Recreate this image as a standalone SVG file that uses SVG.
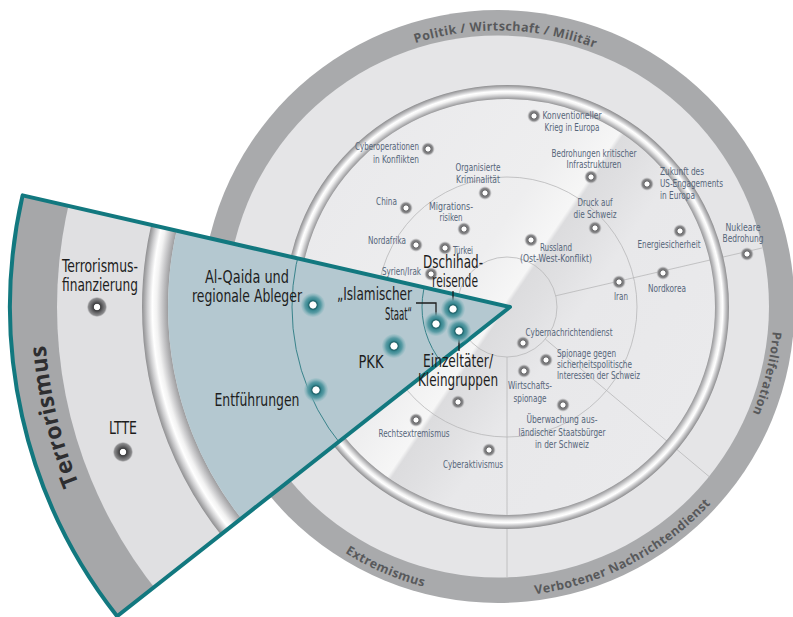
<svg xmlns="http://www.w3.org/2000/svg" width="793" height="617" viewBox="0 0 793 617">
<defs>
<style>
.lbl{font-family:"Liberation Sans Narrow","DejaVu Sans Condensed","Liberation Sans",sans-serif;font-size:10.5px;fill:#56667a}
.wl{font-family:"Liberation Sans Narrow","DejaVu Sans Condensed","Liberation Sans",sans-serif;font-size:18px;fill:#1d1d1d}
.ring{font-family:"Open Sans","DejaVu Sans",sans-serif;font-weight:bold;font-size:12.5px;fill:#58595b;letter-spacing:0.4px}
.terr{font-family:"Open Sans","DejaVu Sans",sans-serif;font-weight:bold;font-size:23px;fill:#2e2e30;letter-spacing:0.3px}
.conn{stroke:#1d1d1d;stroke-width:1.3;fill:none}
.grid{stroke:#b7b7b9;stroke-width:0.8;fill:none}
.tarc{stroke:#2a7a82;stroke-width:0.9;fill:none}
</style>
<radialGradient id="gdot">
<stop offset="0" stop-color="#fff"/><stop offset="0.3" stop-color="#fff"/><stop offset="0.42" stop-color="#6c6c6e"/><stop offset="0.7" stop-color="#8c8c8e"/><stop offset="1" stop-color="#c8c8ca" stop-opacity="0"/>
</radialGradient>
<radialGradient id="tdot">
<stop offset="0" stop-color="#fff"/><stop offset="0.27" stop-color="#fff"/><stop offset="0.33" stop-color="#1d5f66"/><stop offset="0.47" stop-color="#3a8992"/><stop offset="0.68" stop-color="#5b9ca5"/><stop offset="1" stop-color="#8cbac1" stop-opacity="0.25"/>
</radialGradient>
<radialGradient id="wdot">
<stop offset="0" stop-color="#fff"/><stop offset="0.28" stop-color="#fff"/><stop offset="0.36" stop-color="#3e3e40"/><stop offset="0.6" stop-color="#666668"/><stop offset="0.85" stop-color="#8a8a8c"/><stop offset="1" stop-color="#b0b0b2" stop-opacity="0.3"/>
</radialGradient>
<radialGradient id="silverC" gradientUnits="userSpaceOnUse" cx="507" cy="307" r="222">
<stop offset="0.937" stop-color="#98989a"/><stop offset="0.95" stop-color="#c6c6c8"/><stop offset="0.963" stop-color="#f3f3f3"/><stop offset="0.972" stop-color="#ffffff"/><stop offset="0.983" stop-color="#cfcfd1"/><stop offset="1" stop-color="#8e8e90"/>
</radialGradient>
<radialGradient id="silverW" gradientUnits="userSpaceOnUse" cx="510" cy="307" r="368">
<stop offset="0.929" stop-color="#9c9c9e"/><stop offset="0.945" stop-color="#c8c8ca"/><stop offset="0.96" stop-color="#f2f2f2"/><stop offset="0.972" stop-color="#ffffff"/><stop offset="0.985" stop-color="#cfcfd1"/><stop offset="1" stop-color="#8f8f91"/>
</radialGradient>
<linearGradient id="sheen" gradientUnits="userSpaceOnUse" x1="333" y1="189.4" x2="681" y2="424.6">
<stop offset="0" stop-color="#eaeaec"/><stop offset="0.38" stop-color="#eeeeef"/><stop offset="0.49" stop-color="#f6f6f6"/><stop offset="0.5" stop-color="#dcdcde"/><stop offset="0.56" stop-color="#e0e0e2"/><stop offset="0.65" stop-color="#e8e8ea"/><stop offset="1" stop-color="#eaeaec"/>
</linearGradient>
<clipPath id="wedgeClip"><path d="M510,307 L22.6,195.4 A500,500 0 0 0 117.1,616.2 Z"/></clipPath>
<path id="pPolitik" d="M262.9,161.9 A276,276 0 0 1 740.8,175.2"/>
<path id="pProlif" d="M689.7,108 A276,276 0 0 1 574.1,571.8"/>
<path id="pVerb" d="M341.3,550.5 A290,290 0 0 0 787.7,320.2"/>
<path id="pExtr" d="M210,340.3 A290,290 0 0 0 671.3,539"/>
<path id="pTerr" d="M172,627.8 A466,466 0 0 1 63.2,174.7"/>
</defs>
<rect width="793" height="617" fill="#fff"/>

<g id="radar-background">
<circle cx="498" cy="306.5" r="296.5" fill="#a9aaac"/>
<circle cx="498" cy="306.5" r="271" fill="#e5e5e7"/>
<circle cx="507" cy="307" r="209" fill="url(#sheen)"/>
<circle class="grid" cx="507" cy="307" r="50"/>
<circle class="grid" cx="507" cy="307" r="130"/>
<line class="grid" x1="555.7" y1="295.8" x2="762" y2="248"/>
<line class="grid" x1="545.3" y1="339.1" x2="710" y2="477.3"/>
<line class="grid" x1="507" y1="357" x2="507" y2="577"/>
<circle cx="507" cy="307" r="215" fill="none" stroke="url(#silverC)" stroke-width="14"/>
<text class="ring"><textPath href="#pPolitik" startOffset="50%" text-anchor="middle">Politik / Wirtschaft / Militär</textPath></text>
<text class="ring"><textPath href="#pProlif" startOffset="50%" text-anchor="middle">Proliferation</textPath></text>
<text class="ring"><textPath href="#pVerb" startOffset="50%" text-anchor="middle">Verbotener Nachrichtendienst</textPath></text>
<text class="ring"><textPath href="#pExtr" startOffset="50%" text-anchor="middle">Extremismus</textPath></text>
</g>

<g id="n-konv"><circle cx="534" cy="116" r="7" fill="url(#gdot)"/>
<text class="lbl" x="572" y="118.5" text-anchor="middle" textLength="59" lengthAdjust="spacingAndGlyphs">Konventioneller</text>
<text class="lbl" x="572" y="130.5" text-anchor="middle" textLength="55" lengthAdjust="spacingAndGlyphs">Krieg in Europa</text></g>
<g id="n-cyberop"><circle cx="428" cy="149" r="7" fill="url(#gdot)"/>
<text class="lbl" x="419" y="150" text-anchor="end" textLength="64" lengthAdjust="spacingAndGlyphs">Cyberoperationen</text>
<text class="lbl" x="419" y="162.5" text-anchor="end" textLength="46" lengthAdjust="spacingAndGlyphs">in Konflikten</text></g>
<g id="n-bedroh"><circle cx="591" cy="177" r="7" fill="url(#gdot)"/>
<text class="lbl" x="594" y="156.5" text-anchor="middle" textLength="85" lengthAdjust="spacingAndGlyphs">Bedrohungen kritischer</text>
<text class="lbl" x="594" y="167.5" text-anchor="middle" textLength="55" lengthAdjust="spacingAndGlyphs">Infrastrukturen</text></g>
<g id="n-orgkrim"><circle cx="485" cy="193" r="7" fill="url(#gdot)"/>
<text class="lbl" x="478" y="170.5" text-anchor="middle" textLength="45" lengthAdjust="spacingAndGlyphs">Organisierte</text>
<text class="lbl" x="478" y="182.5" text-anchor="middle" textLength="44" lengthAdjust="spacingAndGlyphs">Kriminalität</text></g>
<g id="n-zukunft"><circle cx="647" cy="184" r="7" fill="url(#gdot)"/>
<text class="lbl" x="660" y="174.5" textLength="44" lengthAdjust="spacingAndGlyphs">Zukunft des</text>
<text class="lbl" x="660" y="186.5" textLength="63" lengthAdjust="spacingAndGlyphs">US-Engagements</text>
<text class="lbl" x="660" y="198.5" textLength="35" lengthAdjust="spacingAndGlyphs">in Europa</text></g>
<g id="n-china"><circle cx="406" cy="208" r="7" fill="url(#gdot)"/>
<text class="lbl" x="397" y="204.5" text-anchor="end" textLength="21" lengthAdjust="spacingAndGlyphs">China</text></g>
<g id="n-migr"><circle cx="464" cy="229" r="7" fill="url(#gdot)"/>
<text class="lbl" x="451" y="209.5" text-anchor="middle" textLength="44" lengthAdjust="spacingAndGlyphs">Migrations-</text>
<text class="lbl" x="451" y="220.5" text-anchor="middle" textLength="23" lengthAdjust="spacingAndGlyphs">risiken</text></g>
<g id="n-druck"><circle cx="595" cy="228" r="7" fill="url(#gdot)"/>
<text class="lbl" x="595" y="205.5" text-anchor="middle" textLength="35" lengthAdjust="spacingAndGlyphs">Druck auf</text>
<text class="lbl" x="595" y="217.5" text-anchor="middle" textLength="43" lengthAdjust="spacingAndGlyphs">die Schweiz</text></g>
<g id="n-energie"><circle cx="680" cy="231" r="7" fill="url(#gdot)"/>
<text class="lbl" x="669" y="247.5" text-anchor="middle" textLength="63" lengthAdjust="spacingAndGlyphs">Energiesicherheit</text></g>
<g id="n-nuklear"><circle cx="747" cy="254" r="7" fill="url(#gdot)"/>
<text class="lbl" x="743" y="230.5" text-anchor="middle" textLength="35" lengthAdjust="spacingAndGlyphs">Nukleare</text>
<text class="lbl" x="743" y="241.5" text-anchor="middle" textLength="41" lengthAdjust="spacingAndGlyphs">Bedrohung</text></g>
<g id="n-nordafrika"><circle cx="416" cy="245" r="7" fill="url(#gdot)"/>
<text class="lbl" x="406" y="243.5" text-anchor="end" textLength="38" lengthAdjust="spacingAndGlyphs">Nordafrika</text></g>
<g id="n-tuerkei"><circle cx="445" cy="248" r="7" fill="url(#gdot)"/>
<text class="lbl" x="453" y="254" textLength="20" lengthAdjust="spacingAndGlyphs">Türkei</text></g>
<g id="n-russland"><circle cx="531" cy="240" r="7" fill="url(#gdot)"/>
<text class="lbl" x="556" y="250.5" text-anchor="middle" textLength="32" lengthAdjust="spacingAndGlyphs">Russland</text>
<text class="lbl" x="556" y="262" text-anchor="middle" textLength="72" lengthAdjust="spacingAndGlyphs">(Ost-West-Konflikt)</text></g>
<g id="n-syrien"><circle cx="431" cy="274" r="7" fill="url(#gdot)"/>
<text class="lbl" x="421" y="274.5" text-anchor="end" textLength="39" lengthAdjust="spacingAndGlyphs">Syrien/Irak</text></g>
<g id="n-nordkorea"><circle cx="663" cy="273" r="7" fill="url(#gdot)"/>
<text class="lbl" x="667" y="291.5" text-anchor="middle" textLength="38" lengthAdjust="spacingAndGlyphs">Nordkorea</text></g>
<g id="n-iran"><circle cx="619" cy="282" r="7" fill="url(#gdot)"/>
<text class="lbl" x="621" y="299.5" text-anchor="middle" textLength="14" lengthAdjust="spacingAndGlyphs">Iran</text></g>
<g id="n-cybernd"><circle cx="523" cy="343" r="7" fill="url(#gdot)"/>
<text class="lbl" x="569" y="335.5" text-anchor="middle" textLength="87" lengthAdjust="spacingAndGlyphs">Cybernachrichtendienst</text></g>
<g id="n-spionage"><circle cx="546" cy="360" r="7" fill="url(#gdot)"/>
<text class="lbl" x="557" y="356.5" textLength="59" lengthAdjust="spacingAndGlyphs">Spionage gegen</text>
<text class="lbl" x="557" y="367.5" textLength="75" lengthAdjust="spacingAndGlyphs">sicherheitspolitische</text>
<text class="lbl" x="557" y="378.5" textLength="83" lengthAdjust="spacingAndGlyphs">Interessen der Schweiz</text></g>
<g id="n-wirtschaft"><circle cx="524" cy="371" r="7" fill="url(#gdot)"/>
<text class="lbl" x="530" y="389" text-anchor="middle" textLength="44" lengthAdjust="spacingAndGlyphs">Wirtschafts-</text>
<text class="lbl" x="530" y="401.5" text-anchor="middle" textLength="33" lengthAdjust="spacingAndGlyphs">spionage</text></g>
<g id="n-ueberwachung"><circle cx="563" cy="405" r="7" fill="url(#gdot)"/>
<text class="lbl" x="562" y="422.5" text-anchor="middle" textLength="71" lengthAdjust="spacingAndGlyphs">Überwachung aus-</text>
<text class="lbl" x="562" y="435.5" text-anchor="middle" textLength="87" lengthAdjust="spacingAndGlyphs">ländischer Staatsbürger</text>
<text class="lbl" x="562" y="447.5" text-anchor="middle" textLength="54" lengthAdjust="spacingAndGlyphs">in der Schweiz</text></g>
<g id="n-rechts"><circle cx="416" cy="420" r="7" fill="url(#gdot)"/>
<text class="lbl" x="414" y="436.5" text-anchor="middle" textLength="71" lengthAdjust="spacingAndGlyphs">Rechtsextremismus</text></g>
<g id="n-cyberakt"><circle cx="489" cy="450" r="7" fill="url(#gdot)"/>
<text class="lbl" x="473" y="467.5" text-anchor="middle" textLength="60" lengthAdjust="spacingAndGlyphs">Cyberaktivismus</text></g>
<g id="n-links"><circle cx="458" cy="402" r="7" fill="url(#gdot)"/></g>

<g id="wedge-terrorismus">
<g clip-path="url(#wedgeClip)">
<circle cx="510" cy="307" r="500" fill="#a6a7a9"/>
<circle cx="510" cy="307" r="453" fill="#e0e0e2"/>
<circle cx="510" cy="307" r="355" fill="none" stroke="url(#silverW)" stroke-width="26"/>
<circle cx="510" cy="307" r="342" fill="#b4c8d0"/>
<circle class="tarc" cx="510" cy="307" r="88"/>
<circle class="tarc" cx="510" cy="307" r="218"/>
</g>
<path d="M510,307 L22.6,195.4 A500,500 0 0 0 117.1,616.2 Z" fill="none" stroke="#12787f" stroke-width="4" stroke-linejoin="round"/>
<text class="terr"><textPath href="#pTerr" startOffset="50%" text-anchor="middle">Terrorismus</textPath></text>
</g>

<g id="connectors">
<line class="conn" x1="453" y1="291" x2="453" y2="302"/>
<polyline class="conn" points="416,303 436,303 436,317"/>
<line class="conn" x1="459" y1="338" x2="459" y2="351"/>
</g>

<g id="n-dschihad"><circle cx="453" cy="309" r="12" fill="url(#tdot)"/>
<text class="wl" x="453" y="268" text-anchor="middle" textLength="60" lengthAdjust="spacingAndGlyphs">Dschihad-</text>
<text class="wl" x="455" y="287" text-anchor="middle" textLength="46" lengthAdjust="spacingAndGlyphs">reisende</text></g>
<g id="n-is"><circle cx="436" cy="324" r="12" fill="url(#tdot)"/>
<text class="wl" x="412" y="300" text-anchor="end" textLength="75" lengthAdjust="spacingAndGlyphs">„Islamischer</text>
<text class="wl" x="412" y="320" text-anchor="end" textLength="27" lengthAdjust="spacingAndGlyphs">Staat“</text></g>
<g id="n-einzel"><circle cx="459" cy="331" r="12" fill="url(#tdot)"/>
<text class="wl" x="458" y="367" text-anchor="middle" textLength="70" lengthAdjust="spacingAndGlyphs">Einzeltäter/</text>
<text class="wl" x="458" y="386" text-anchor="middle" textLength="80" lengthAdjust="spacingAndGlyphs">Kleingruppen</text></g>
<g id="n-pkk"><circle cx="394" cy="346" r="12" fill="url(#tdot)"/>
<text class="wl" x="371" y="368" text-anchor="middle" textLength="25" lengthAdjust="spacingAndGlyphs">PKK</text></g>
<g id="n-alqaida"><circle cx="313" cy="305" r="12" fill="url(#tdot)"/>
<text class="wl" x="247" y="283" text-anchor="middle" textLength="84" lengthAdjust="spacingAndGlyphs">Al-Qaida und</text>
<text class="wl" x="247" y="302" text-anchor="middle" textLength="110" lengthAdjust="spacingAndGlyphs">regionale Ableger</text></g>
<g id="n-entf"><circle cx="316" cy="390" r="12" fill="url(#tdot)"/>
<text class="wl" x="257" y="406" text-anchor="middle" textLength="85" lengthAdjust="spacingAndGlyphs">Entführungen</text></g>
<g id="n-tfin"><circle cx="97" cy="307" r="10" fill="url(#wdot)"/>
<text class="wl" x="100" y="272" text-anchor="middle" textLength="76" lengthAdjust="spacingAndGlyphs">Terrorismus-</text>
<text class="wl" x="100" y="291" text-anchor="middle" textLength="76" lengthAdjust="spacingAndGlyphs">finanzierung</text></g>
<g id="n-ltte"><circle cx="123" cy="452" r="10" fill="url(#wdot)"/>
<text class="wl" x="123" y="434" text-anchor="middle" textLength="28" lengthAdjust="spacingAndGlyphs">LTTE</text></g>
</svg>
